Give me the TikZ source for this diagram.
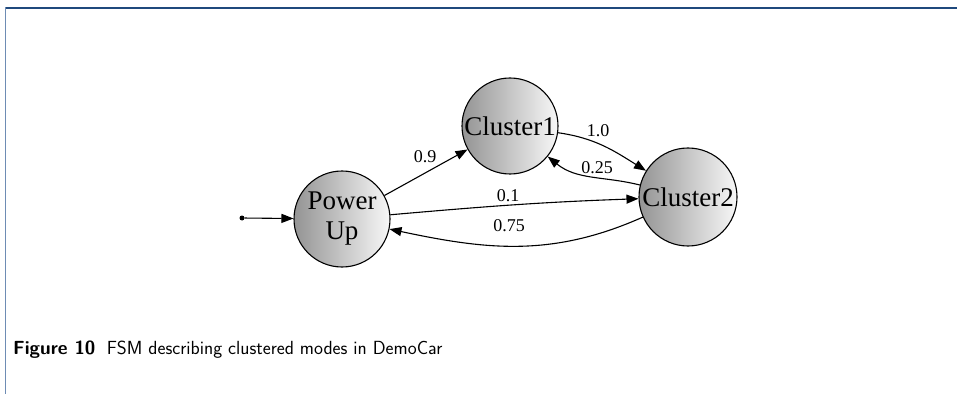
\documentclass[tikz,border=0pt]{standalone}
\usepackage{fontspec}
\setmainfont{Liberation Serif}
\usetikzlibrary{arrows.meta}
\definecolor{frametop}{RGB}{31,73,125}
\definecolor{frameleft}{RGB}{110,140,180}
\begin{document}
\begin{tikzpicture}[x=1pt,y=1pt,
  state/.style={circle,draw,line width=1.1pt,minimum size=96pt,inner sep=0pt,
    left color=black!42,right color=black!3,
    font=\fontsize{27}{30}\selectfont,align=center},
  tr/.style={-{Triangle[length=12pt,width=9pt]},line width=1.1pt},
  lbl/.style={font=\fontsize{18}{18}\selectfont,inner sep=0pt}]
\useasboundingbox (0,0) rectangle (957,394);
\draw[frametop,line width=1.6pt] (5,386) -- (957,386);
\draw[frameleft,line width=1.6pt] (5.5,386.5) -- (5.5,0);

\node[state] (pu) at (342,175) {Power\\Up};
\node[state] (c1) at (510,268) {Cluster1};
\node[state,minimum size=98pt] (c2) at (688,197) {Cluster2};
\node[circle,fill,inner sep=0pt,minimum size=5pt] (st) at (242,176) {};

\draw[tr] (st) -- (pu);
\draw[tr] (pu) -- (c1);
\draw[tr] (c1) to[out=-8,in=148] (c2);
\draw[tr] (c2) to[out=166,in=-39] (c1);
\draw[tr] (pu) to[out=5,in=182] (c2);
\draw[tr] (c2) to[out=204,in=-12] (pu);

\node[lbl] (l09) at (425,237) {0.9};
\node[lbl] (l10) at (598,263) {1.0};
\node[lbl] (l025) at (597,226) {0.25};
\node[lbl] (l01) at (508,198) {0.1};
\node[lbl] (l075) at (509,168) {0.75};

\node[anchor=base west,inner sep=0pt,font=\sffamily\fontsize{19}{22}\selectfont] (cap) at (13,40)
  {\textbf{Figure 10}\hspace{0.6em}FSM describing clustered modes in DemoCar};
\end{tikzpicture}
\end{document}
